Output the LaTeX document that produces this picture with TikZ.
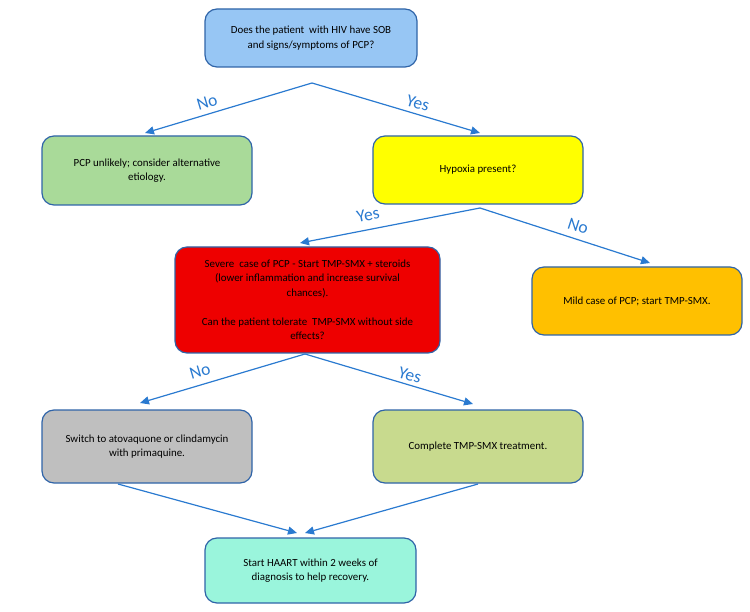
\documentclass[tikz,border=0pt]{standalone}
\usepackage{fontspec}
\setmainfont{Carlito}
\usetikzlibrary{arrows.meta}
\definecolor{cBlue}{HTML}{97C6F4}
\definecolor{cGreen}{HTML}{A9DA99}
\definecolor{cYellow}{HTML}{FFFF00}
\definecolor{cRed}{HTML}{EE0000}
\definecolor{cOrange}{HTML}{FFC000}
\definecolor{cGray}{HTML}{BFBFBF}
\definecolor{cOlive}{HTML}{C8DA8E}
\definecolor{cAqua}{HTML}{9AF5DC}
\definecolor{cBorder}{HTML}{2F64A8}
\definecolor{cArrow}{HTML}{2A7AD0}
\begin{document}
\begin{tikzpicture}[x=1pt,y=-1pt,
  box/.style={draw=cBorder, line width=1.2pt, rounded corners=12pt, align=center,
    inner sep=0pt, font=\fontsize{10.9}{14.5}\selectfont, text=black},
  conn/.style={draw=cArrow, line width=1.2pt, -{Triangle[length=9pt,width=8pt]}},
  lbl/.style={text=cArrow, font=\fontsize{17.5}{20}\selectfont, inner sep=0pt}]
\useasboundingbox (0,0) rectangle (750,612);

\node[box, fill=cBlue, minimum width=212pt, minimum height=58pt] (q1) at (311,38)
  {Does the patient\ \ with HIV have SOB\\and signs/symptoms of PCP?};
\node[box, fill=cGreen, minimum width=210pt, minimum height=69pt] (b2) at (147,170.5)
  {PCP unlikely; consider alternative\\etiology.};
\node[box, fill=cYellow, minimum width=210pt, minimum height=68pt] (q3) at (478,170)
  {Hypoxia present?};
\node[box, fill=cRed, minimum width=265pt, minimum height=106pt] (q4) at (307.5,300)
  {Severe\ \ case of PCP - Start TMP-SMX + steroids\\(lower inflammation and increase survival\\chances).\\[14.5pt]Can the patient tolerate\ \ TMP-SMX without side\\effects?};
\node[box, fill=cOrange, minimum width=210pt, minimum height=68pt] (b5) at (637,301)
  {Mild case of PCP; start TMP-SMX.};
\node[box, fill=cGray, minimum width=210pt, minimum height=73pt] (b6) at (147,446.5)
  {Switch\ to atovaquone or clindamycin\\with primaquine.};
\node[box, fill=cOlive, minimum width=210pt, minimum height=73pt] (b7) at (478,446.5)
  {Complete TMP-SMX\ treatment.};
\node[box, fill=cAqua, minimum width=211pt, minimum height=65pt] (b8) at (310.5,570.5)
  {Start\ HAART\ within 2 weeks of\\diagnosis to help recovery.};

\coordinate (j1) at (312,83);
\coordinate (j2) at (480,208);
\coordinate (j3) at (305,354);
\coordinate (t2) at (145,133);
\coordinate (t3) at (480,133);
\coordinate (t4) at (300,243);
\coordinate (t5) at (650,263);
\coordinate (t6) at (140,403);
\coordinate (t7) at (473,404);
\coordinate (s6) at (118,484);
\coordinate (s7) at (478,484);
\coordinate (t8a) at (297,533);
\coordinate (t8b) at (305,533);

\draw[conn] (j1) -- (t2);
\draw[conn] (j1) -- (t3);
\draw[conn] (j2) -- (t4);
\draw[conn] (j2) -- (t5);
\draw[conn] (j3) -- (t6);
\draw[conn] (j3) -- (t7);
\draw[conn] (s6) -- (t8a);
\draw[conn] (s7) -- (t8b);

\node[lbl, rotate=16.7] (l1) at (207,102) {No};
\node[lbl, rotate=-16.6] (l2) at (418,103) {Yes};
\node[lbl, rotate=11] (l3) at (368,215) {Yes};
\node[lbl, rotate=-17.9] (l4) at (578,226) {No};
\node[lbl, rotate=16.5] (l5) at (200,371) {No};
\node[lbl, rotate=-16.6] (l6) at (410,375) {Yes};
\end{tikzpicture}
\end{document}
